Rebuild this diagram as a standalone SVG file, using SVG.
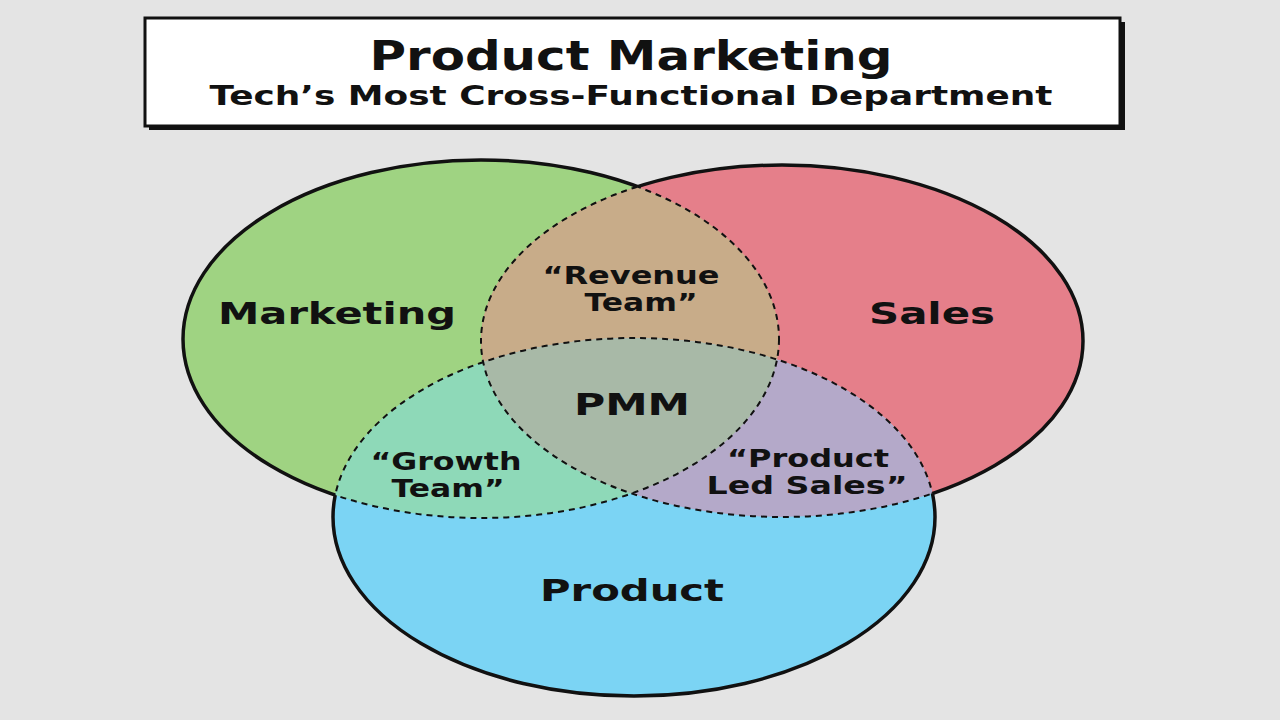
<svg xmlns="http://www.w3.org/2000/svg" width="1280" height="720" viewBox="0 0 1280 720">
<style>
.lbl{font-family:"DejaVu Sans",sans-serif;font-weight:bold;fill:#111;text-anchor:middle}
.solid{fill:none;stroke:#111;stroke-width:3.5}
.dash{fill:none;stroke:#111;stroke-width:2;stroke-dasharray:6 5}
</style>
<defs>
<ellipse id="eM" cx="481" cy="339" rx="298" ry="179"/>
<ellipse id="eS" cx="782" cy="341" rx="301" ry="176"/>
<ellipse id="eP" cx="634" cy="517" rx="301" ry="179"/>
<clipPath id="cM"><use href="#eM"/></clipPath>
<clipPath id="cS"><use href="#eS"/></clipPath>
<clipPath id="cP"><use href="#eP"/></clipPath>
<clipPath id="cSP"><use href="#eS"/><use href="#eP"/></clipPath>
<clipPath id="cMP"><use href="#eM"/><use href="#eP"/></clipPath>
<clipPath id="cMS"><use href="#eM"/><use href="#eS"/></clipPath>
<mask id="mM" maskUnits="userSpaceOnUse" x="0" y="0" width="1280" height="720"><rect width="1280" height="720" fill="#fff"/><use href="#eS" fill="#000"/><use href="#eP" fill="#000"/></mask>
<mask id="mS" maskUnits="userSpaceOnUse" x="0" y="0" width="1280" height="720"><rect width="1280" height="720" fill="#fff"/><use href="#eM" fill="#000"/><use href="#eP" fill="#000"/></mask>
<mask id="mP" maskUnits="userSpaceOnUse" x="0" y="0" width="1280" height="720"><rect width="1280" height="720" fill="#fff"/><use href="#eM" fill="#000"/><use href="#eS" fill="#000"/></mask>
</defs>
<rect width="1280" height="720" fill="#e4e4e4"/>
<g id="title">
<rect x="149" y="22" width="976" height="108" fill="#111"/>
<rect x="145" y="18" width="975" height="108" fill="#fff" stroke="#111" stroke-width="3"/>
<text class="lbl" x="631" y="70" font-size="40" textLength="523" lengthAdjust="spacingAndGlyphs">Product Marketing</text>
<text class="lbl" x="631" y="105" font-size="27" textLength="843" lengthAdjust="spacingAndGlyphs">Tech’s Most Cross-Functional Department</text>
</g>
<g id="fills">
<use href="#eM" fill="#9fd382"/>
<use href="#eS" fill="#e57f8a"/>
<use href="#eP" fill="#7bd4f4"/>
<g clip-path="url(#cM)"><use href="#eS" fill="#c8ac89"/></g>
<g clip-path="url(#cM)"><use href="#eP" fill="#8ed9b8"/></g>
<g clip-path="url(#cS)"><use href="#eP" fill="#b4a9c9"/></g>
<g clip-path="url(#cM)"><g clip-path="url(#cS)"><use href="#eP" fill="#a8b9a7"/></g></g>
</g>
<g id="edges">
<use href="#eM" class="solid" mask="url(#mM)"/>
<use href="#eS" class="solid" mask="url(#mS)"/>
<use href="#eP" class="solid" mask="url(#mP)"/>
<g clip-path="url(#cSP)"><use href="#eM" class="dash"/></g>
<g clip-path="url(#cMP)"><use href="#eS" class="dash"/></g>
<g clip-path="url(#cMS)"><use href="#eP" class="dash"/></g>
</g>
<g id="marketing"><text class="lbl" x="337" y="324" font-size="31" textLength="238" lengthAdjust="spacingAndGlyphs">Marketing</text></g>
<g id="sales"><text class="lbl" x="932" y="324" font-size="31" textLength="126" lengthAdjust="spacingAndGlyphs">Sales</text></g>
<g id="product"><text class="lbl" x="632" y="601" font-size="31" textLength="184" lengthAdjust="spacingAndGlyphs">Product</text></g>
<g id="revenue"><text class="lbl" x="631" y="284" font-size="24" textLength="177" lengthAdjust="spacingAndGlyphs">“Revenue</text><text class="lbl" x="641" y="311" font-size="24" textLength="113" lengthAdjust="spacingAndGlyphs">Team”</text></g>
<g id="pmm"><text class="lbl" x="632" y="415" font-size="31" textLength="116" lengthAdjust="spacingAndGlyphs">PMM</text></g>
<g id="growth"><text class="lbl" x="446" y="470" font-size="24" textLength="151" lengthAdjust="spacingAndGlyphs">“Growth</text><text class="lbl" x="448" y="497" font-size="24" textLength="113" lengthAdjust="spacingAndGlyphs">Team”</text></g>
<g id="pls"><text class="lbl" x="808" y="467" font-size="24" textLength="162" lengthAdjust="spacingAndGlyphs">“Product</text><text class="lbl" x="807" y="494" font-size="24" textLength="201" lengthAdjust="spacingAndGlyphs">Led Sales”</text></g>
</svg>
